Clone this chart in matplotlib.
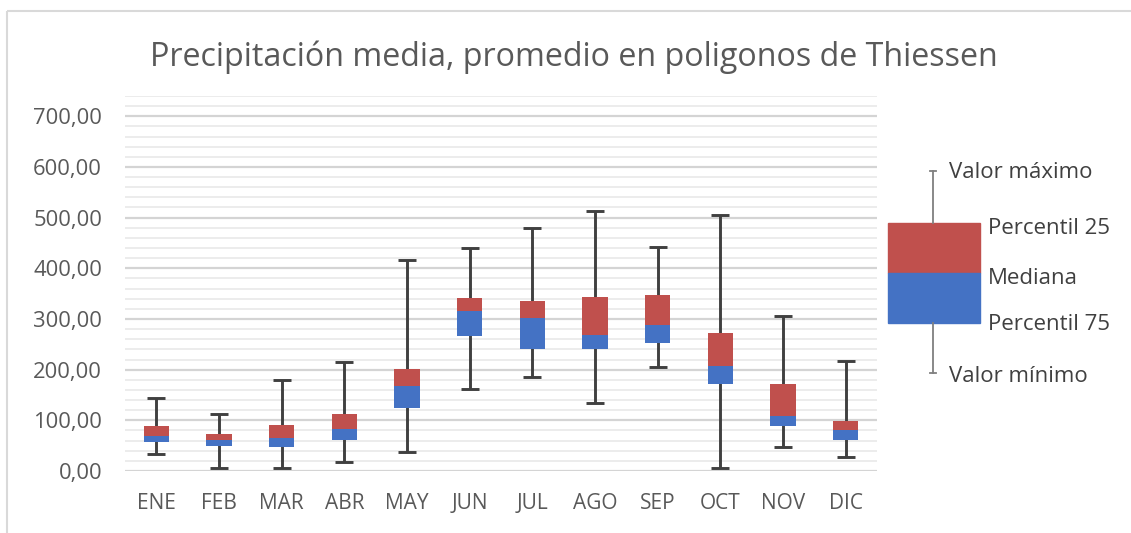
import numpy as np
import matplotlib
matplotlib.use("Agg")
import matplotlib.pyplot as plt
from matplotlib.patches import Rectangle
from matplotlib.ticker import MultipleLocator, FuncFormatter

plt.rcParams['font.family'] = ['Open Sans', 'DejaVu Sans']

# Data (mm)
months = ['ENE', 'FEB', 'MAR', 'ABR', 'MAY', 'JUN', 'JUL', 'AGO', 'SEP', 'OCT', 'NOV', 'DIC']
v_min = [33, 5, 5, 18, 38, 162, 185, 134, 205, 5, 48, 28]
box_low = [58, 49, 47, 61, 125, 266, 241, 241, 253, 171, 89, 61]      # "Percentil 75"
median = [69, 61, 66, 83, 167, 316, 301, 268, 288, 207, 108, 81]
box_high = [89, 73, 91, 112, 202, 341, 336, 343, 348, 272, 172, 98]   # "Percentil 25"
v_max = [144, 112, 180, 215, 417, 441, 479, 514, 443, 506, 306, 218]

title = 'Precipitación media, promedio en poligonos de Thiessen'
legend_labels = ['Valor máximo', 'Percentil 25', 'Mediana', 'Percentil 75', 'Valor mínimo']

RED = '#C0504D'
BLUE = '#4472C4'
WHISK = '#404040'
TXT = '#595959'

W, H = 1131, 533
fig = plt.figure(figsize=(W / 100, H / 100), dpi=100)

# main plot area
ax = fig.add_axes([125 / W, 1 - 471 / H, (877 - 125) / W, (471 - 96) / H])
x = np.arange(len(months))
lo = np.array(box_low)
md = np.array(median)
hi = np.array(box_high)
mn = np.array(v_min)
mx = np.array(v_max)

ax.errorbar(x, md, yerr=[md - mn, mx - md], fmt='none', ecolor=WHISK,
            elinewidth=2.1, capsize=6.5, capthick=2.1, zorder=2)
ax.bar(x, md - lo, bottom=lo, width=0.4, color=BLUE, zorder=3)
ax.bar(x, hi - md, bottom=md, width=0.4, color=RED, zorder=3)

ax.set_xlim(-0.5, len(months) - 0.5)
ax.set_ylim(0, 740)
ax.yaxis.set_major_locator(MultipleLocator(100))
ax.yaxis.set_minor_locator(MultipleLocator(20))
ax.yaxis.set_major_formatter(FuncFormatter(lambda v, p: f'{v:.2f}'.replace('.', ',') if v <= 700 else ''))
ax.grid(True, which='major', axis='y', color='#D4D4D4', linewidth=1.6, zorder=0)
ax.grid(True, which='minor', axis='y', color='#EBEBEB', linewidth=1.3, zorder=0)
ax.set_axisbelow(True)
ax.set_xticks(x)
ax.set_xticklabels(months)
ax.tick_params(axis='both', which='both', length=0, colors=TXT)
ax.tick_params(axis='x', pad=16, labelsize=15)
ax.tick_params(axis='y', pad=16.5, labelsize=15.8)
for s in ax.spines.values():
    s.set_visible(False)

# overlay in pixel coordinates for title, border and the box key
ov = fig.add_axes([0, 0, 1, 1], facecolor='none')
ov.set_xlim(0, W)
ov.set_ylim(H, 0)
ov.axis('off')

ov.add_patch(Rectangle((7, 11), W + 20, H + 20, fill=False, edgecolor='#D9D9D9', linewidth=1.5))
ov.text(574, 57, title, ha='center', va='center', fontsize=23.2, color=TXT)

kx = 933
ov.plot([kx, kx], [171, 223], color='#7F7F7F', linewidth=1.3)
ov.plot([kx, kx], [323, 373], color='#7F7F7F', linewidth=1.3)
ov.plot([kx - 3, kx + 3], [171, 171], color='#7F7F7F', linewidth=1.3)
ov.plot([kx - 3, kx + 3], [373, 373], color='#7F7F7F', linewidth=1.3)
ov.add_patch(Rectangle((888, 223), 92, 50, color=RED))
ov.add_patch(Rectangle((888, 273), 92, 50, color=BLUE))

key_pos = [(949, 173), (988, 228), (988, 278), (988, 325), (949, 376)]
for (tx, ty), lab in zip(key_pos, legend_labels):
    ov.text(tx, ty, lab, ha='left', va='center', fontsize=16, color='#404040')

fig.savefig('out.png', dpi=100)
